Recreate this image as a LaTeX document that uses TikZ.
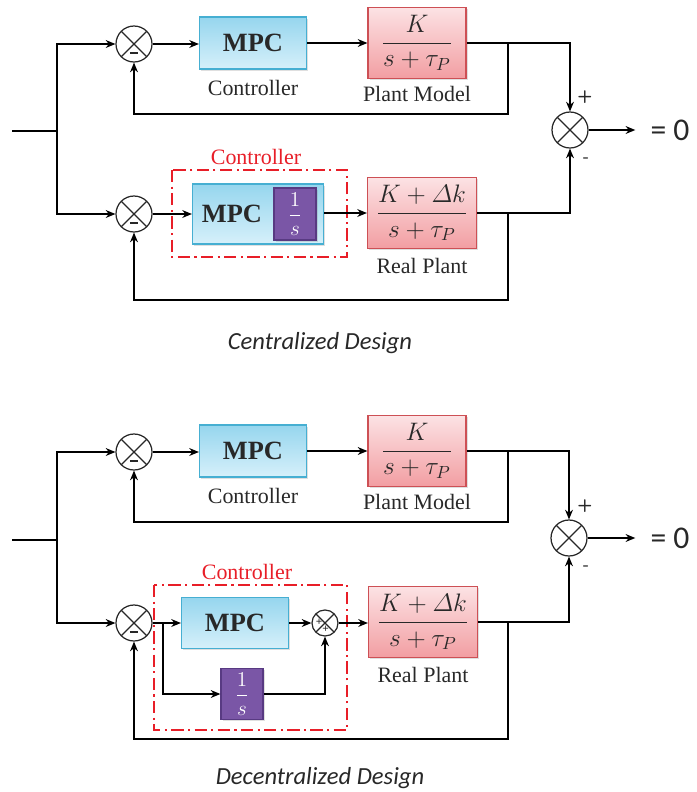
\documentclass[tikz,border=0pt]{standalone}
\usepackage{amsmath}
\usepackage{fontspec}
\setmainfont{Liberation Serif}
\newfontfamily\capfont{Carlito}
\usetikzlibrary{arrows.meta,shadows}
\definecolor{mpcedge}{RGB}{70,175,210}
\definecolor{mpctop}{RGB}{150,214,238}
\definecolor{mpcbot}{RGB}{214,240,250}
\definecolor{plantedge}{RGB}{205,80,85}
\definecolor{planttop}{RGB}{252,226,228}
\definecolor{plantbot}{RGB}{242,158,162}
\definecolor{intfill}{RGB}{122,86,166}
\definecolor{intedge}{RGB}{88,58,130}
\definecolor{ctrlred}{RGB}{232,30,40}
\definecolor{ink}{RGB}{40,40,40}
\newcommand{\plantfrac}[2]{$\displaystyle\frac{#1}{#2}$}

\begin{document}
\begin{tikzpicture}[
    x=0.02cm, y=-0.02cm,
    >={Stealth[length=5.5pt,width=4.5pt]},
    line width=0.7pt,
    every node/.style={text=ink},
    boxshadow/.style={drop shadow={opacity=0.25,shadow xshift=1pt,shadow yshift=-1pt}},
    mpcbox/.style={draw=mpcedge,top color=mpctop,bottom color=mpcbot,boxshadow,
        minimum width=2.14cm,minimum height=1.04cm,inner sep=0pt},
    mpctext/.style={font=\bfseries\fontsize{15}{18}\selectfont},
    plantbox/.style={draw=plantedge,top color=planttop,bottom color=plantbot,boxshadow,
        minimum height=1.42cm,inner sep=0pt,font=\fontsize{14.5}{16}\selectfont},
    intbox/.style={draw=intedge,fill=intfill,boxshadow,text=white,
        minimum width=0.84cm,minimum height=1.04cm,inner sep=0pt,font=\fontsize{12}{14}\selectfont},
    sumx/.style={circle,draw=ink,fill=white,minimum size=0.72cm,inner sep=0pt,
        path picture={\draw[ink] (path picture bounding box.north west) -- (path picture bounding box.south east)
                      (path picture bounding box.north east) -- (path picture bounding box.south west);}},
    sumneg/.style={sumx,
        path picture={\draw[ink] (path picture bounding box.north west) -- (path picture bounding box.south east)
                      (path picture bounding box.north east) -- (path picture bounding box.south west);
                      \draw[ink,line width=1.5pt] ([xshift=-2.3pt,yshift=-5.2pt]path picture bounding box.center) -- ++(4.6pt,0);}},
    sumpp/.style={circle,draw=ink,fill=white,minimum size=0.52cm,inner sep=0pt,
        path picture={\draw[ink] (path picture bounding box.north west) -- (path picture bounding box.south east)
                      (path picture bounding box.north east) -- (path picture bounding box.south west);
                      \node[font=\bfseries\fontsize{6.5}{7}\selectfont,inner sep=0pt] at ([xshift=-3.3pt,yshift=0.5pt]path picture bounding box.center) {+};
                      \node[font=\bfseries\fontsize{6.5}{7}\selectfont,inner sep=0pt] at ([xshift=0.4pt,yshift=-3.7pt]path picture bounding box.center) {+};}},
    tag/.style={font=\fontsize{12.5}{14}\selectfont},
    ctrltag/.style={tag,text=ctrlred},
    sign/.style={font=\sffamily\bfseries\fontsize{10}{12}\selectfont},
    ctrlframe/.style={draw=ctrlred,line width=1pt,dash pattern=on 7pt off 2.5pt on 1.2pt off 2.5pt},
    caption/.style={font=\capfont\itshape\fontsize{14}{16}\selectfont},
    zero/.style={font=\capfont\fontsize{18}{20}\selectfont}
]
\useasboundingbox (0,0) rectangle (697,792);

% ---------------- centralized design ----------------
\coordinate (inA) at (12,131);
\coordinate (brA) at (57,131);
\node[sumneg] (sumA1) at (134,44) {};
\node[sumneg] (sumA2) at (134,214) {};
\node[mpcbox,mpctext] (mpcA) at (253,43) {MPC};
\node[tag] at (253,88) {Controller};
\node[plantbox,minimum width=1.96cm] (pmA) at (417,43) {\plantfrac{K}{s+\tau_P}};
\node[tag] at (417,94) {Plant Model};
\node[sumx] (sumC) at (570,130) {};
\node[sign] at (585,97) {+};
\node[sign] at (586,160) {-};
\node[zero] (zeroC) at (670,130) {= 0};

% controller with integrator
\draw[ctrlframe] (172,170) rectangle (347,257);
\node[ctrltag] at (256,157) {Controller};
\node[mpcbox,minimum width=2.62cm,minimum height=1.2cm] (mpcB) at (258,214) {};
\node[mpctext] at (232,214) {MPC};
\node[intbox] (intB) at (295,214) {\plantfrac{1}{s}};
\node[plantbox,minimum width=2.18cm] (rpB) at (422,213) {\plantfrac{K+\varDelta k}{s+\tau_P}};
\node[tag] at (422,266) {Real Plant};

\coordinate (fbA) at (508,43);
\coordinate (fbAlow) at (508,114);
\coordinate (fbB) at (508,213);
\coordinate (fbBlow) at (508,300);

\draw (inA) -- (brA);
\draw[->] (brA) |- (sumA1);
\draw[->] (brA) |- (sumA2);
\draw[->] (sumA1) -- (sumA1 -| mpcA.west);
\draw[->] (mpcA) -- (pmA);
\draw[->] (pmA.east) -| (sumC);
\draw[->] (fbA) -- (fbAlow) -| (sumA1);
\draw[->] (sumA2) -- (sumA2 -| mpcB.west);
\draw[->] (mpcB.east |- rpB) -- (rpB);
\draw[->] (rpB.east) -| (sumC);
\draw[->] (fbB) -- (fbBlow) -| (sumA2);
\draw[->,shorten >=5pt] (sumC) -- (zeroC);

\node[caption] at (320,343) {Centralized Design};

% ---------------- decentralized design ----------------
\coordinate (inD) at (12,540);
\coordinate (brD) at (57,540);
\node[sumneg] (sumD1) at (134,452) {};
\node[sumneg] (sumD2) at (134,623) {};
\node[mpcbox,mpctext] (mpcC) at (253,451) {MPC};
\node[tag] at (253,496) {Controller};
\node[plantbox,minimum width=1.96cm] (pmC) at (417,451) {\plantfrac{K}{s+\tau_P}};
\node[tag] at (417,502) {Plant Model};
\node[sumx] (sumE) at (569,538) {};
\node[sign] at (585,506) {+};
\node[sign] at (586,568) {-};
\node[zero] (zeroE) at (670,538) {= 0};

% controller with parallel integrator
\draw[ctrlframe] (154,585) rectangle (347,730);
\node[ctrltag] at (247,572) {Controller};
\node[mpcbox,mpctext,minimum height=1.02cm] (mpcD) at (235,623) {MPC};
\node[intbox,minimum height=1.02cm] (intD) at (242,694) {\plantfrac{1}{s}};
\node[sumpp] (sumS) at (325,623) {};
\node[plantbox,minimum width=2.18cm] (rpD) at (423,622) {\plantfrac{K+\varDelta k}{s+\tau_P}};
\node[tag] at (423,675) {Real Plant};

\coordinate (splitD) at (163,623);
\coordinate (fbC) at (508,451);
\coordinate (fbClow) at (508,522);
\coordinate (fbD) at (508,622);
\coordinate (fbDlow) at (508,739);

\draw (inD) -- (brD);
\draw[->] (brD) |- (sumD1);
\draw[->] (brD) |- (sumD2);
\draw[->] (sumD1) -- (sumD1 -| mpcC.west);
\draw[->] (mpcC) -- (pmC);
\draw[->] (pmC.east) -| (sumE);
\draw[->] (fbC) -- (fbClow) -| (sumD1);
\draw[->] (sumD2) -- (mpcD);
\draw[->] (splitD) |- (intD);
\draw[->] (mpcD) -- (sumS);
\draw[->] (intD) -| (sumS);
\draw[->] (sumS) -- (sumS -| rpD.west);
\draw[->] (rpD.east) -| (sumE);
\draw[->] (fbD) -- (fbDlow) -| (sumD2);
\draw[->,shorten >=5pt] (sumE) -- (zeroE);

\node[caption] at (320,778) {Decentralized Design};
\end{tikzpicture}
\end{document}
